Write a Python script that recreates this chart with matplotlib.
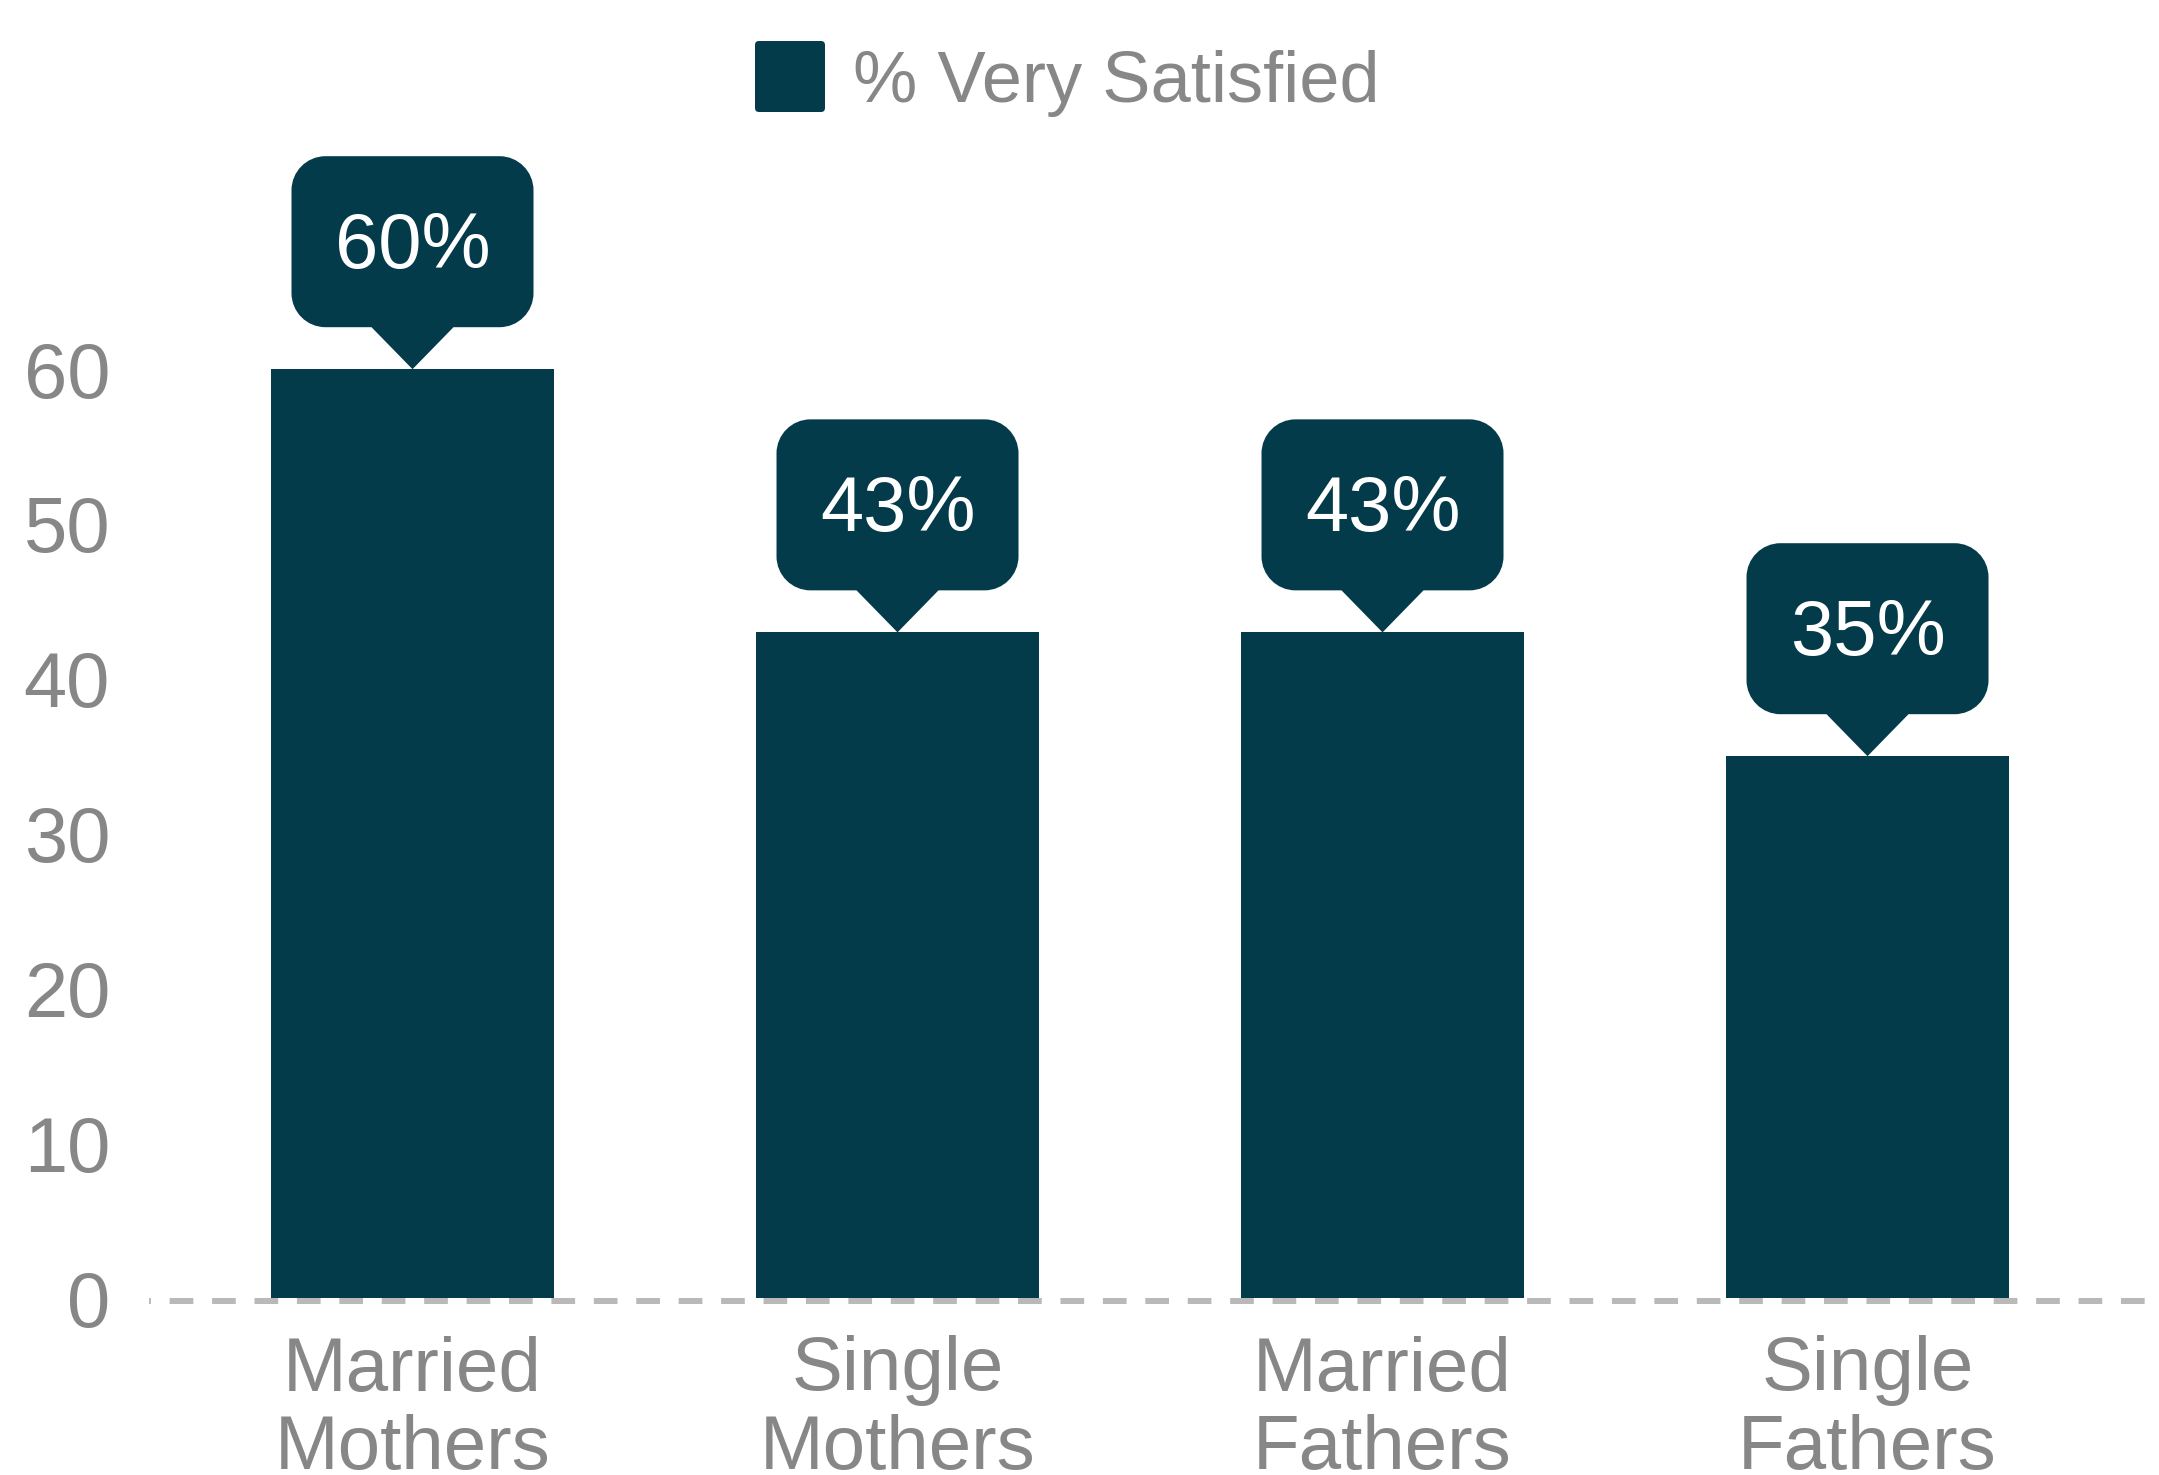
import matplotlib
matplotlib.use("Agg")
import matplotlib.pyplot as plt
import matplotlib.transforms as mtransforms
from matplotlib.path import Path
from matplotlib.patches import PathPatch, FancyBboxPatch

# Data
categories = ["Married\nMothers", "Single\nMothers", "Married\nFathers", "Single\nFathers"]
very_satisfied = [60, 43, 43, 35]
value_labels = ["60%", "43%", "43%", "35%"]
y_ticks = [0, 10, 20, 30, 40, 50, 60]
series_name = "% Very Satisfied"

# Style
BAR = "#033b4b"
GRAY = "#878787"
BASELINE = "#b9b9b9"
FS = 55
plt.rcParams["font.family"] = ["Liberation Sans", "DejaVu Sans"]

W, H = 2159, 1475
DPI = 100
fig = plt.figure(figsize=(W / DPI, H / DPI), dpi=DPI)
ax = fig.add_axes([149 / W, 177 / H, (W - 149) / W, 1298 / H])

xpos = list(range(len(categories)))
ax.bar(xpos, very_satisfied, width=0.5835, color=BAR, zorder=2)
ax.set_xlim(-0.5433, 3.601)
ax.set_ylim(0, 83.85)

for s in ax.spines.values():
    s.set_visible(False)

ax.set_yticks(y_ticks)
ax.tick_params(axis="y", length=0, pad=28, labelsize=FS + 1, labelcolor=GRAY)
ax.set_xticks(xpos, categories)
ax.tick_params(axis="x", length=0, pad=27, labelsize=FS, labelcolor=GRAY)
for lab in ax.get_xticklabels():
    lab.set_linespacing(1.14)

px = mtransforms.Affine2D().scale(fig.dpi / 100)

# dashed zero line across the full axes width, sitting just under the bar bottoms
zero_trans = (ax.get_yaxis_transform()
              + mtransforms.ScaledTranslation(0, -2.5 / 100, fig.dpi_scale_trans))
ax.plot([0, 1], [0, 0], color=BASELINE, lw=4.32,
        linestyle=(3.63, (3.95, 3.12)), solid_capstyle="butt",
        dash_capstyle="butt", zorder=3, clip_on=False, transform=zero_trans)


def callout_path(w=242, h=171, r=34, ph=42, hw=41):
    """Rounded speech bubble with a downward pointer; tip at (0, 0), units in pixels."""
    k = 0.5523 * r
    L, R = -w / 2, w / 2
    B, T = ph, ph + h
    verts = [
        (0, 0),
        (hw, B),
        (R - r, B),
        (R - r + k, B), (R, B + r - k), (R, B + r),
        (R, T - r),
        (R, T - r + k), (R - r + k, T), (R - r, T),
        (L + r, T),
        (L + r - k, T), (L, T - r + k), (L, T - r),
        (L, B + r),
        (L, B + r - k), (L + r - k, B), (L + r, B),
        (-hw, B),
        (0, 0),
    ]
    C = Path.CURVE4
    codes = [Path.MOVETO, Path.LINETO, Path.LINETO, C, C, C, Path.LINETO,
             C, C, C, Path.LINETO, C, C, C, Path.LINETO, C, C, C,
             Path.LINETO, Path.CLOSEPOLY]
    return Path(verts, codes)


bubble = callout_path()
for xi, v, lab in zip(xpos, very_satisfied, value_labels):
    trans = px + mtransforms.ScaledTranslation(xi, v, ax.transData)
    ax.add_patch(PathPatch(bubble, transform=trans, facecolor=BAR,
                           edgecolor="none", clip_on=False, zorder=4))
    ax.annotate(lab, xy=(xi, v), xytext=(0, 101), textcoords="offset pixels",
                ha="center", va="baseline", color="white", fontsize=FS + 1,
                zorder=5, annotation_clip=False)

# legend
fig.add_artist(FancyBboxPatch((755, H - 112), 70, 71,
                              boxstyle="round,pad=0,rounding_size=4",
                              facecolor=BAR, edgecolor="none",
                              transform=px))
fig.text(853 / W, 1 - 101.7 / H, series_name, fontsize=52, color=GRAY,
         ha="left", va="baseline")

fig.savefig("out.png", dpi=DPI)
